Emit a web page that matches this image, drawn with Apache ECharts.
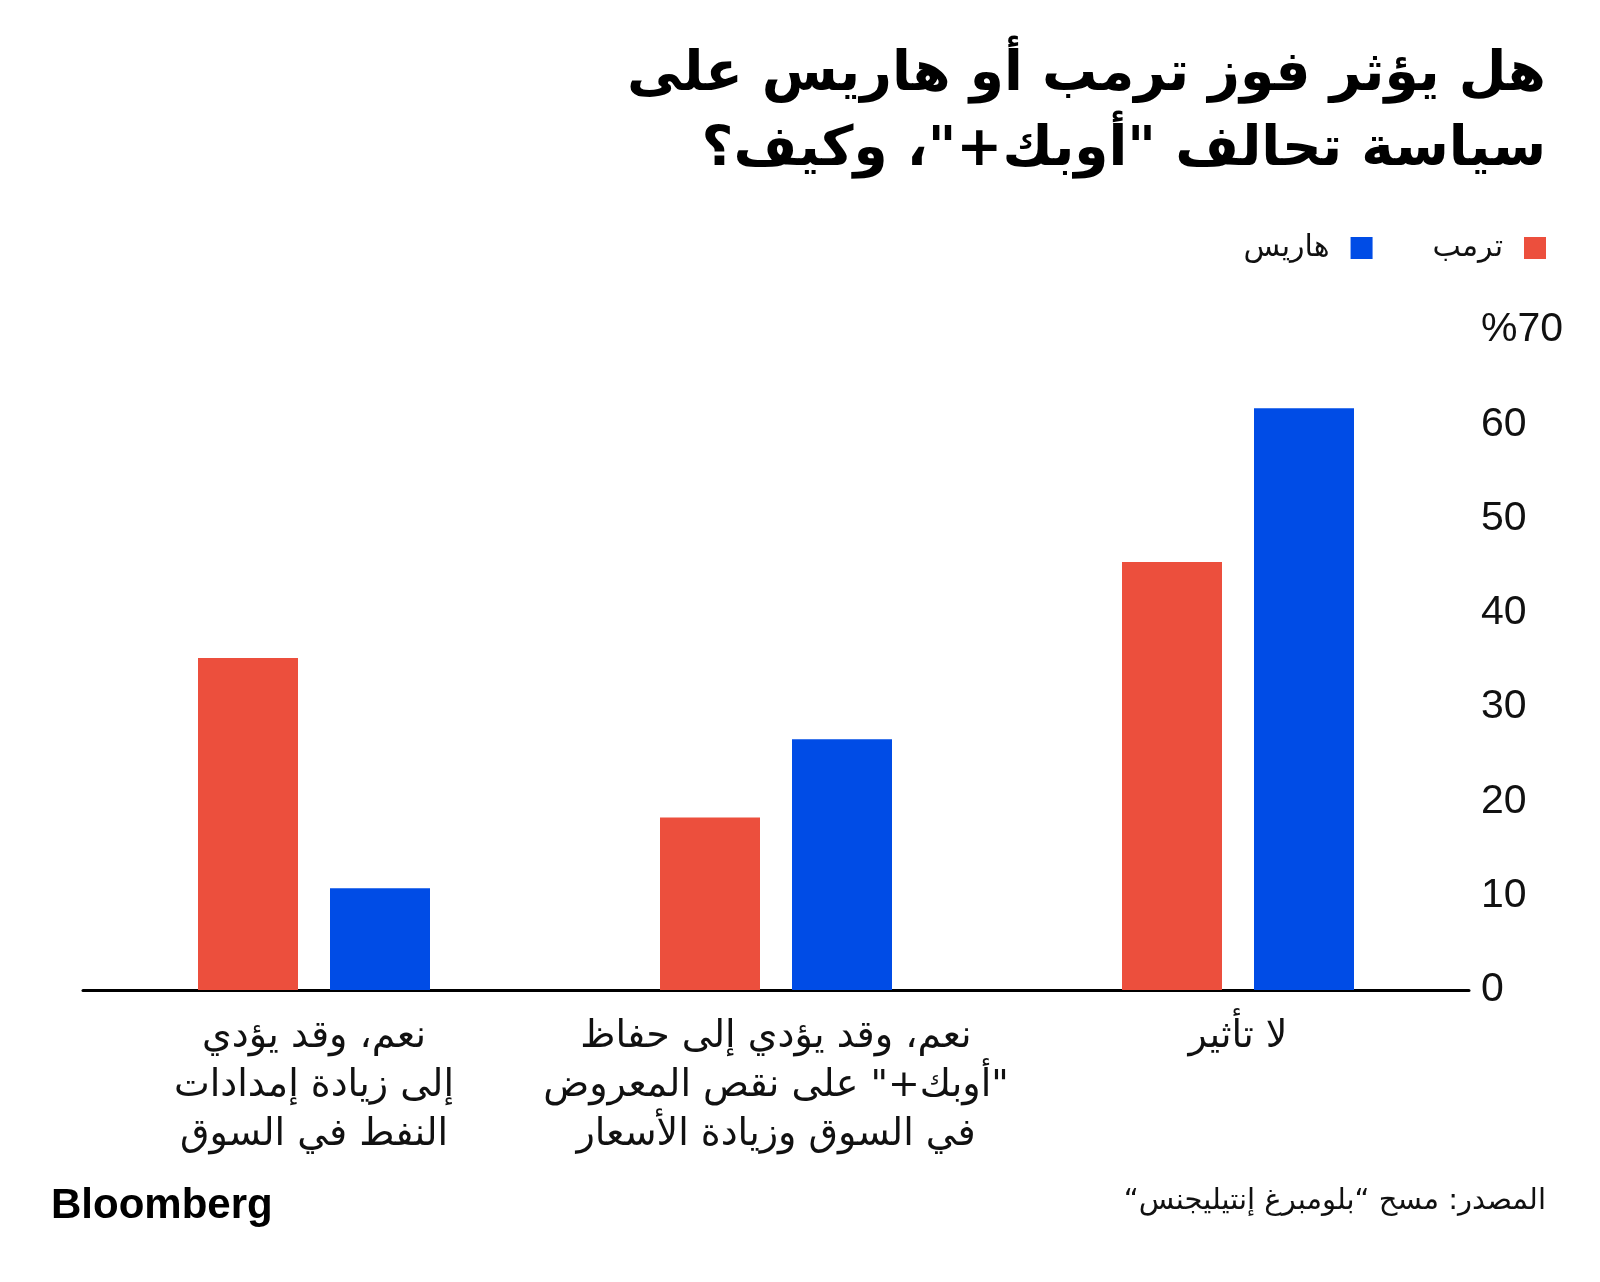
<!DOCTYPE html>
<html>
<head>
<meta charset="utf-8">
<script src="https://cdn.jsdelivr.net/npm/echarts@6/dist/echarts.min.js"></script>
<style>
html,body{margin:0;padding:0;background:#fff;}
#chart{width:1600px;height:1282px;}
</style>
</head>
<body>
<div id="chart" dir="rtl"></div>
<script>
// Categories, left to right as drawn
const categories = [
  'نعم، وقد يؤدي\nإلى زيادة إمدادات\nالنفط في السوق',
  'نعم، وقد يؤدي إلى حفاظ\n"أوبك+" على نقص المعروض\nفي السوق وزيادة الأسعار',
  'لا تأثير'
];
const seriesNames = ['ترمب', 'هاريس'];
const trumpValues = [35.2, 18.3, 45.4];
const harrisValues = [10.8, 26.6, 61.7];
const yTicks = [0, 10, 20, 30, 40, 50, 60, 70];
const titleLines = ['هل يؤثر فوز ترمب أو هاريس على', 'سياسة تحالف "أوبك+"، وكيف؟'];
const sourceText = 'المصدر: مسح “بلومبرغ إنتيليجنس“';

const RED = '#EC4F3D';
const BLUE = '#004CE6';
const AR = '"DejaVu Sans", sans-serif';
const NUM = '"Liberation Sans", Arial, sans-serif';

const chart = echarts.init(document.getElementById('chart'), null, {renderer: 'canvas'});
chart.setOption({
  backgroundColor: '#ffffff',
  animation: false,
  legend: {
    data: [seriesNames[1], seriesNames[0]],
    right: 54,
    top: 233,
    padding: 0,
    align: 'right',
    itemWidth: 22,
    itemHeight: 22,
    itemGap: 60,
    icon: 'rect',
    textStyle: {fontFamily: AR, fontSize: 30, color: '#111', padding: [0, 16, 0, 0]}
  },
  grid: {left: 83, right: 131, top: 330, bottom: 292, containLabel: false},
  xAxis: {
    type: 'category',
    data: categories,
    axisLine: {show: true, lineStyle: {color: '#000', width: 3}},
    axisTick: {show: false},
    axisLabel: {interval: 0, margin: 23, fontFamily: AR, fontSize: 38, lineHeight: 49, color: '#111', verticalAlign: 'top'}
  },
  yAxis: {
    type: 'value',
    position: 'right',
    min: 0,
    max: 70,
    interval: 10,
    splitLine: {show: false},
    axisLine: {show: false},
    axisTick: {show: false},
    axisLabel: {
      margin: 12,
      align: 'left',
      fontFamily: NUM,
      fontSize: 41,
      color: '#111',
      padding: [7, 0, 0, 0],
      formatter: v => (yTicks.indexOf(v) >= 0 ? (v === 70 ? '%70' : String(v)) : '')
    }
  },
  series: [
    {name: seriesNames[0], type: 'bar', data: trumpValues, itemStyle: {color: RED}, barWidth: 100, barGap: '32%'},
    {name: seriesNames[1], type: 'bar', data: harrisValues, itemStyle: {color: BLUE}, barWidth: 100, barGap: '32%'}
  ],
  graphic: [
    {type: 'text', right: 54, top: 48, style: {text: titleLines[0], fontFamily: AR, fontWeight: 'bold', fontSize: 55, fill: '#000'}},
    {type: 'text', right: 54, top: 123, style: {text: titleLines[1], fontFamily: AR, fontWeight: 'bold', fontSize: 55, fill: '#000'}},
    {type: 'text', left: 51, top: 1185, style: {text: 'Bloomberg', fontFamily: NUM, fontWeight: 'bold', fontSize: 42, fill: '#000'}},
    {type: 'text', right: 54, top: 1187, style: {text: sourceText, fontFamily: AR, fontSize: 29, fill: '#111'}}
  ]
});
</script>
</body>
</html>
